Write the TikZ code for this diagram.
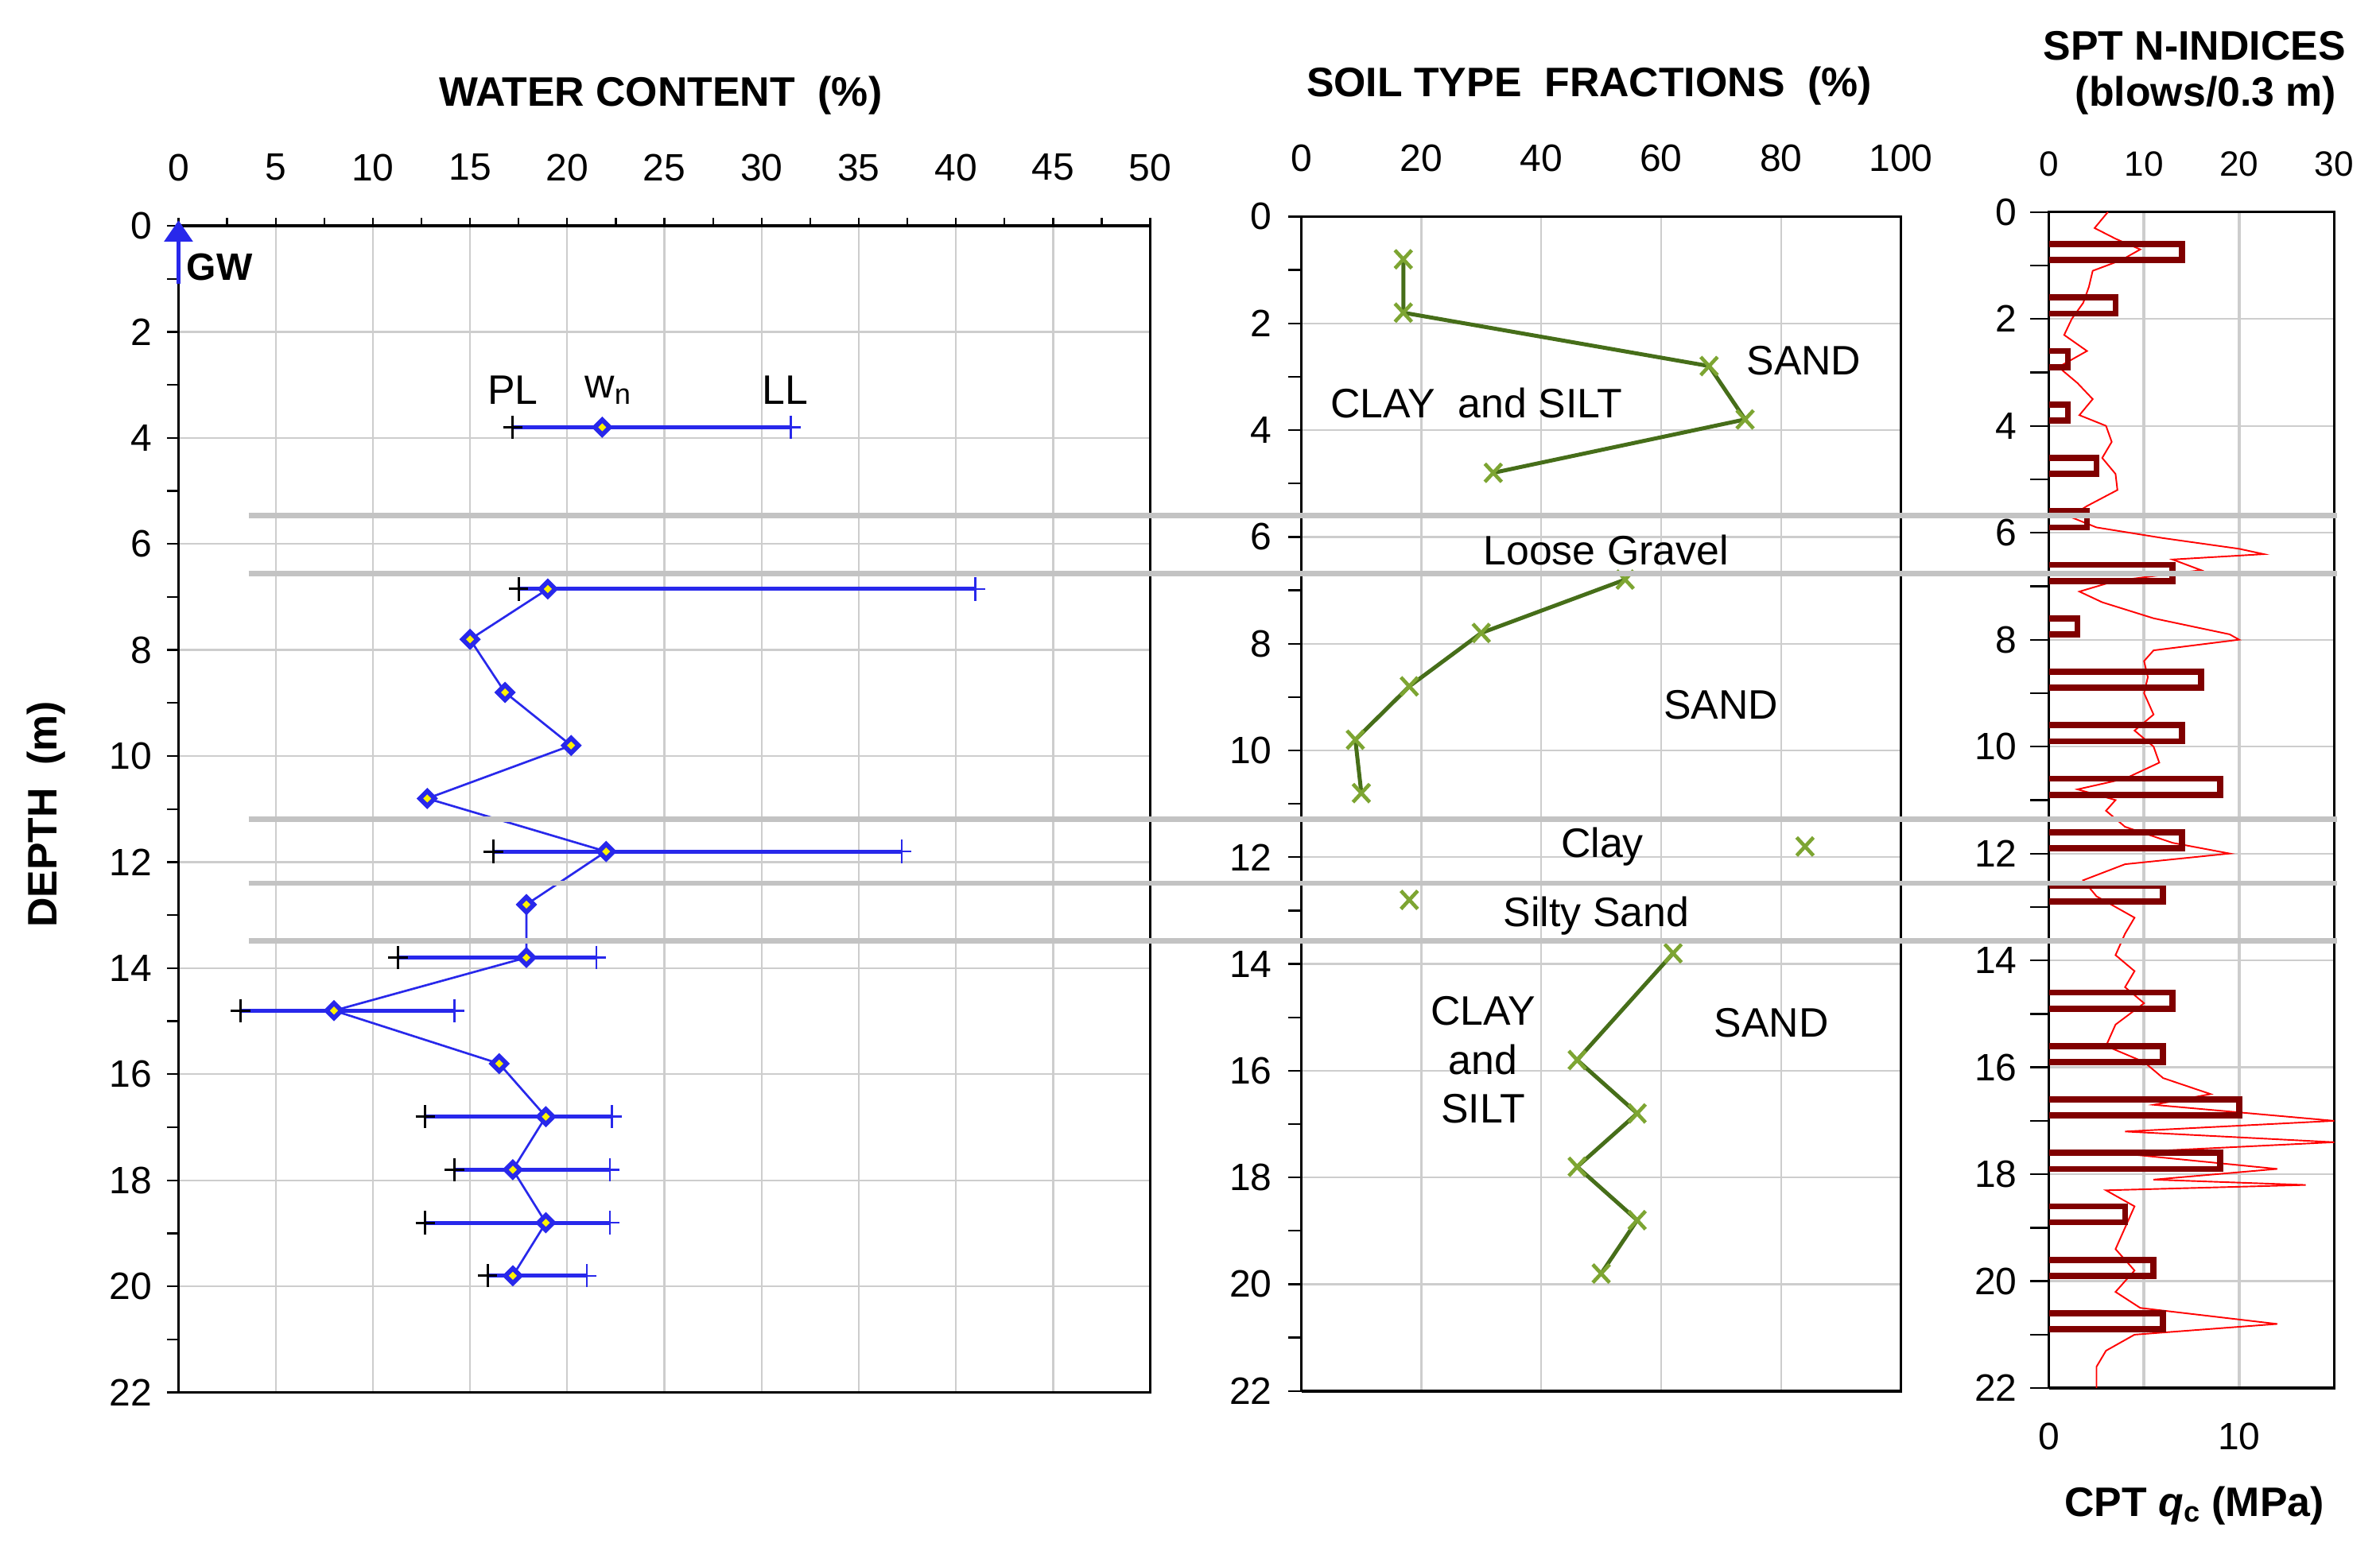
\documentclass[tikz,border=0pt]{standalone}
\usepackage{fontspec}
\setmainfont{Liberation Sans}
\usetikzlibrary{shapes.geometric,arrows.meta}
\definecolor{wblue}{RGB}{40,40,235}
\definecolor{dgreen}{RGB}{70,110,25}
\definecolor{lgreen}{RGB}{125,165,50}
\definecolor{dred}{RGB}{128,0,0}
\definecolor{gridc}{RGB}{205,205,205}
\definecolor{band}{RGB}{195,195,195}
\tikzset{
 tick/.style={font=\fontsize{25}{25}\selectfont},
 stick/.style={font=\fontsize{23}{23}\selectfont},
 ttl/.style={font=\bfseries\fontsize{27}{30}\selectfont},
 lab/.style={font=\fontsize{27}{30}\selectfont},
 gridl/.style={gridc,line width=1.2pt},
 frame/.style={black,line width=1.8pt},
 wn/.style={diamond,draw=wblue,fill=yellow,line width=3pt,inner sep=1.5pt,minimum size=11pt},
 xm/.style={lgreen,line width=2.4pt},
 spt/.style={dred,line width=4pt},
}
\begin{document}
\begin{tikzpicture}[x=1pt,y=-1pt]
\useasboundingbox (0,0) rectangle (1560,1014);
\fill[white] (0,0) rectangle (1560,1014);
% ---------------- Panel 1 ----------------
\begin{scope}[shift={(117,148)},x=12.74pt,y=-34.77pt]
 \foreach \v in {5,10,...,45} \draw[gridl] (\v,0)--(\v,22);
 \foreach \d in {2,4,...,20} \draw[gridl] (0,\d)--(50,\d);
 \draw[frame] (0,22)--(0,0)--(50,0)--(50,22)--(0,22);
 \foreach \v in {0,2.5,...,50} \draw[line width=1.2pt] (\v,0)--(\v,-0.15);
 \foreach \d in {0,1,...,22} \draw[line width=1.2pt] (0,\d)--(-0.6,\d);
 \foreach \v in {0,5,...,50} \node[tick] at (\v,-1.1) {\v};
 \foreach \d in {0,2,...,22} \node[tick,anchor=east] at (-1.1,\d) {\d};
 \node[ttl] (t1) at (24.8,-2.45) {WATER CONTENT\ \ (\%)};
 \node[ttl,rotate=90] (dep) at (-6.8,11.1) {DEPTH\ \ (m)};
 % GW
 \coordinate (gw0) at (0,1.1); \coordinate (gw1) at (0,0.25);
 \draw[wblue,line width=2.5pt] (gw0)--(gw1);
 \fill[wblue] (-0.75,0.3)--(0.75,0.3)--(0,-0.1)--cycle;
 \node[font=\bfseries\fontsize{25}{25}\selectfont,anchor=west] at (0.15,0.78) {GW};
 % range bars
 \foreach \d/\p/\l in {3.8/17.2/31.5,6.85/17.5/41,11.8/16.2/37.2,13.8/11.3/21.5,14.8/3.2/14.2,16.8/12.7/22.3,17.8/14.2/22.2,18.8/12.7/22.2,19.8/15.9/21}{
  \draw[wblue,line width=2.6pt] (\p,\d)--(\l,\d);
  \draw[black,line width=1.5pt] (\p-0.5,\d)--(\p+0.5,\d) (\p,\d-0.22)--(\p,\d+0.22);
  \draw[wblue,line width=1.3pt] (\l-0.5,\d)--(\l+0.5,\d) (\l,\d-0.22)--(\l,\d+0.22);
 }
 \draw[wblue,line width=1.4pt] (19,6.85)--(15,7.8)--(16.8,8.8)--(20.2,9.8)--(12.8,10.8)--(22,11.8)--(17.9,12.8)--(17.9,13.8)--(8,14.8)--(16.5,15.8)--(18.9,16.8)--(17.2,17.8)--(18.9,18.8)--(17.2,19.8);
 \foreach \v/\d in {21.8/3.8,19/6.85,15/7.8,16.8/8.8,20.2/9.8,12.8/10.8,22/11.8,17.9/12.8,17.9/13.8,8/14.8,16.5/15.8,18.9/16.8,17.2/17.8,18.9/18.8,17.2/19.8}
  \node[wn] at (\v,\d) {};
 \node[lab] at (17.2,3.1) {PL};
 \node[lab] at (22.1,3.1) {w\textsubscript{n}};
 \node[lab] at (31.2,3.1) {LL};
\end{scope}
% ---------------- Panel 2 ----------------
\begin{scope}[shift={(853,142)},x=3.93pt,y=-35pt]
 \foreach \v in {20,40,...,80} \draw[gridl] (\v,0)--(\v,22);
 \foreach \d in {2,4,...,20} \draw[gridl] (0,\d)--(100,\d);
 \draw[frame] (0,22)--(0,0)--(100,0)--(100,22)--(0,22);
 \foreach \d in {0,1,...,22} \draw[line width=1.2pt] (0,\d)--(-2.2,\d);
 \foreach \v in {0,20,...,100} \node[tick] at (\v,-1.1) {\v};
 \foreach \d in {0,2,...,22} \node[tick,anchor=east] at (-4,\d) {\d};
 \node[ttl] (t2) at (48,-2.45) {SOIL TYPE\ \ FRACTIONS\ \ (\%)};
 \draw[dgreen,line width=2.6pt] (17,0.8)--(17,1.8)--(68,2.8)--(74,3.8)--(32,4.8);
 \draw[dgreen,line width=2.6pt] (54,6.8)--(30,7.8)--(18,8.8)--(9,9.8)--(10,10.8);
 \draw[dgreen,line width=2.6pt] (62,13.8)--(46,15.8)--(56,16.8)--(46,17.8)--(56,18.8)--(50,19.8);
 \foreach \v/\d in {17/0.8,17/1.8,68/2.8,74/3.8,32/4.8,54/6.8,30/7.8,18/8.8,9/9.8,10/10.8,84/11.8,18/12.8,62/13.8,46/15.8,56/16.8,46/17.8,56/18.8,50/19.8}
  \draw[xm] (\v-1.4,\d-0.17)--(\v+1.4,\d+0.17) (\v-1.4,\d+0.17)--(\v+1.4,\d-0.17);
 \node[lab] at (83.8,2.7) {SAND};
 \node[lab] at (29.2,3.5) {CLAY\ \ and SILT};
 \node[lab] at (50.8,6.25) {Loose Gravel};
 \node[lab] at (70,9.15) {SAND};
 \node[lab] at (50.2,11.8) {Clay};
 \node[lab] at (49.2,13.1) {Silty Sand};
 \node[lab,align=center] at (30.3,15.8) {CLAY\\[2pt]and\\[2pt]SILT};
 \node[lab] at (78.4,15.1) {SAND};
\end{scope}
% ---------------- Panel 3 ----------------
\begin{scope}[shift={(1343,139)},x=6.233pt,y=-35.05pt]
 \foreach \v in {10,20} \draw[gridc,line width=2.2pt] (\v,0)--(\v,22);
 \foreach \d in {2,4,...,20} \draw[gridl] (0,\d)--(30,\d);
 \draw[frame] (0,22)--(0,0)--(30,0)--(30,22)--(0,22);
 \foreach \d in {0,1,...,22} \draw[line width=1.2pt] (0,\d)--(-2,\d);
 \foreach \v in {0,10,20,30} \node[stick] at (\v,-0.9) {\v};
 \foreach \d in {0,2,...,22} \node[tick,anchor=east] at (-2.8,\d) {\d};
 \node[font=\fontsize{25}{25}\selectfont] at (0,22.9) {0};
 \node[font=\fontsize{25}{25}\selectfont] at (20,22.9) {10};
 \node[ttl,align=center] (t3) at (15.3,-2.6) {SPT N-INDICES\\\ \ (blows/0.3 m)};
 \node[ttl] (t4) at (15.3,24.2) {CPT \textit{q}\textsubscript{c} (MPa)};
 \begin{scope}[x=12.466pt]
 \draw[red,line width=1pt] plot coordinates {(3.1,0) (2.4,0.3) (3.5,0.5) (4.8,0.7) (3.8,0.9) (2.3,1.1) (2.1,1.4) (1.8,1.7) (1.2,2.0) (0.8,2.3) (2.0,2.6) (0.5,2.9) (1.5,3.2) (2.3,3.5) (1.6,3.8) (3.0,4.0) (3.3,4.3) (2.8,4.6) (3.5,4.9) (3.6,5.2) (2.0,5.5) (1.1,5.7) (2.5,5.9) (6.0,6.1) (10.0,6.3) (11.3,6.4) (6.5,6.5) (8.0,6.7) (3.5,6.9) (1.6,7.1) (2.8,7.3) (5.5,7.6) (9.5,7.9) (10.0,8.0) (5.5,8.2) (5.0,8.4) (5.2,8.7) (5.0,9.0) (5.5,9.4) (4.5,9.7) (5.5,10.0) (5.8,10.3) (4.0,10.6) (1.5,10.8) (3.5,11.0) (3.0,11.2) (4.0,11.5) (6.5,11.8) (9.5,12.0) (4.0,12.2) (1.8,12.5) (2.5,12.8) (4.5,13.2) (4.0,13.5) (3.5,13.9) (4.5,14.2) (4.0,14.5) (5.0,14.8) (3.5,15.2) (3.0,15.6) (5.0,15.9) (6.0,16.2) (8.5,16.5) (5.5,16.7) (15,17.0) (4.0,17.2) (15,17.4) (3.5,17.6) (12,17.9) (5.5,18.1) (13.5,18.2) (3,18.3) (4.5,18.6) (4.0,19.0) (3.5,19.4) (4.5,19.8) (3.5,20.2) (4.8,20.5) (12.0,20.8) (4.5,21.0) (3.0,21.3) (2.5,21.6) (2.5,22)};
 \end{scope}
 \foreach \n [count=\i] in {14,7,2,2,5,4,13,3,16,14,18,14,12,0,13,12,20,18,8,11,12}{
  \ifnum\n>0
  \draw[spt] (0,\i-0.4)--(\n,\i-0.4)--(\n,\i-0.1)--(0,\i-0.1);
  \fi}
\end{scope}
% bands
\foreach \y in {338,376,537,579,617} \draw[band,line width=3.5pt] (163,\y)--(1532,\y);
\end{tikzpicture}
\end{document}
